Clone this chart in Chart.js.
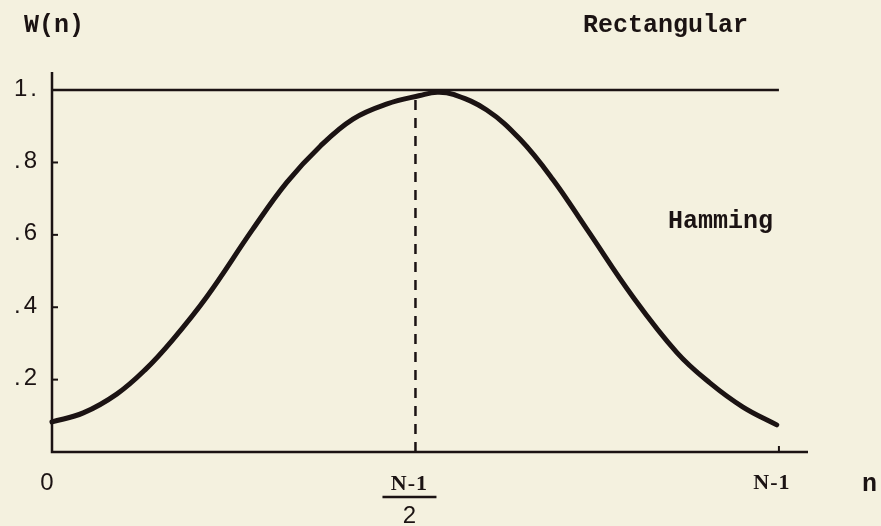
<!DOCTYPE html>
<html lang="en">
<head>
  <meta charset="UTF-8">
  <title>Hamming window</title>
  <script src="https://cdn.jsdelivr.net/npm/chart.js"></script>
  <style>
    body { margin: 0; background: #f4f1df; }
    canvas { display: block; }
  </style>
</head>
<body>
  <canvas id="windowChart" width="881" height="526"></canvas>
  <script>
    // n is given in percent of N-1, so N-1 sits at 100 and (N-1)/2 at 50
    const nPoints = [0, 4.3, 8.9, 12.8, 16.6, 21.3, 27.6, 32.3, 36.9, 41.4, 46.1, 50.6, 53.0, 55.2, 59.8, 64.4, 68.9, 73.6, 79.9, 86.0, 90.5, 95.0, 99.7];
    const hamming = [0.083, 0.108, 0.160, 0.227, 0.310, 0.429, 0.615, 0.745, 0.845, 0.920, 0.962, 0.985, 0.994, 0.988, 0.945, 0.864, 0.753, 0.615, 0.429, 0.274, 0.191, 0.125, 0.075];
    const rectN = [0, 100];
    const rectangular = [1, 1];
    const centerN = 50;
    const centerTop = 0.985;
    const yTicks = [0.2, 0.4, 0.6, 0.8, 1.0];
    const yTickLabels = ['.2', '.4', '.6', '.8', '1.'];
    const xTickLabels = ['0', 'N-1', 'N-1'];
    const xTicks = [0, 50, 100];

    const ink = '#1b1313';
    const mono = '"Liberation Mono", "DejaVu Sans Mono", monospace';
    const sans = '"Liberation Sans", Arial, sans-serif';

    const toXY = (xs, ys) => xs.map((x, i) => ({ x: x, y: ys[i] }));

    // axes, ticks and all the typed labels
    const figurePlugin = {
      id: 'figure',
      beforeDatasetsDraw(chart) {
        const ctx = chart.ctx;
        const xs = chart.scales.x, ys = chart.scales.y;
        const x0 = xs.getPixelForValue(0), y0 = ys.getPixelForValue(0);
        ctx.save();
        ctx.strokeStyle = ink;
        ctx.lineWidth = 2.5;
        ctx.beginPath();
        ctx.moveTo(x0, ys.getPixelForValue(1.05));
        ctx.lineTo(x0, y0);
        ctx.lineTo(xs.getPixelForValue(104), y0);
        ctx.stroke();
        ctx.lineWidth = 2;
        yTicks.slice(0, 4).forEach(v => {
          const y = ys.getPixelForValue(v);
          ctx.beginPath();
          ctx.moveTo(x0, y);
          ctx.lineTo(x0 + 6, y);
          ctx.stroke();
        });
        const xEnd = xs.getPixelForValue(100);
        ctx.beginPath();
        ctx.moveTo(xEnd, y0);
        ctx.lineTo(xEnd, y0 - 6);
        ctx.stroke();
        ctx.restore();
      },
      afterDraw(chart) {
        const ctx = chart.ctx;
        const xs = chart.scales.x, ys = chart.scales.y;
        const x0 = xs.getPixelForValue(0), y0 = ys.getPixelForValue(0);
        ctx.save();
        ctx.fillStyle = ink;
        ctx.textBaseline = 'middle';

        // y tick labels
        ctx.font = '24px ' + sans;
        ctx.textAlign = 'right';
        ctx.letterSpacing = '3px';
        yTicks.forEach((v, i) => {
          ctx.fillText(yTickLabels[i], x0 - 12, ys.getPixelForValue(v) - 1);
        });

        // x tick labels
        ctx.textAlign = 'center';
        ctx.letterSpacing = '0px';
        ctx.fillText(xTickLabels[0], xs.getPixelForValue(xTicks[0]) - 5, y0 + 31);
        ctx.font = 'bold 22px "Liberation Serif", serif';
        ctx.letterSpacing = '1px';
        const cx = xs.getPixelForValue(xTicks[1]) - 6;
        ctx.fillText(xTickLabels[1], cx, y0 + 32);
        ctx.fillText(xTickLabels[2], xs.getPixelForValue(xTicks[2]) - 7, y0 + 31);
        ctx.letterSpacing = '0px';
        ctx.lineWidth = 2.5;
        ctx.strokeStyle = ink;
        ctx.beginPath();
        ctx.moveTo(cx - 27, y0 + 45);
        ctx.lineTo(cx + 27, y0 + 45);
        ctx.stroke();
        ctx.font = '24px ' + sans;
        ctx.fillText('2', cx, y0 + 64);

        // titles and curve names
        ctx.font = 'bold 25px ' + mono;
        ctx.textAlign = 'left';
        ctx.fillText('W(n)', x0 - 28, 26);
        ctx.textAlign = 'right';
        ctx.fillText('Rectangular', 748, 26);
        ctx.textAlign = 'left';
        ctx.fillText('Hamming', 668, 222);
        ctx.fillText('n', 862, y0 + 33);
        ctx.restore();
      }
    };

    new Chart(document.getElementById('windowChart'), {
      type: 'scatter',
      data: {
        datasets: [
          {
            label: 'Hamming',
            data: toXY(nPoints, hamming),
            showLine: true,
            borderColor: ink,
            borderWidth: 5,
            borderCapStyle: 'round',
            tension: 0.4,
            pointRadius: 0,
            clip: false
          },
          {
            label: 'Rectangular',
            data: toXY(rectN, rectangular),
            showLine: true,
            borderColor: ink,
            borderWidth: 2.5,
            pointRadius: 0,
            clip: false
          },
          {
            label: '(N-1)/2',
            data: [{ x: centerN, y: 0 }, { x: centerN, y: centerTop }],
            showLine: true,
            borderColor: ink,
            borderWidth: 2.5,
            borderDash: [10, 8],
            pointRadius: 0,
            clip: false
          }
        ]
      },
      options: {
        responsive: false,
        animation: false,
        layout: { padding: { left: 52, right: 73, top: 72, bottom: 74 } },
        plugins: {
          legend: { display: false },
          tooltip: { enabled: false }
        },
        scales: {
          x: { type: 'linear', min: 0, max: 104, display: false },
          y: { min: 0, max: 1.05, display: false }
        }
      },
      plugins: [figurePlugin]
    });
  </script>
</body>
</html>
